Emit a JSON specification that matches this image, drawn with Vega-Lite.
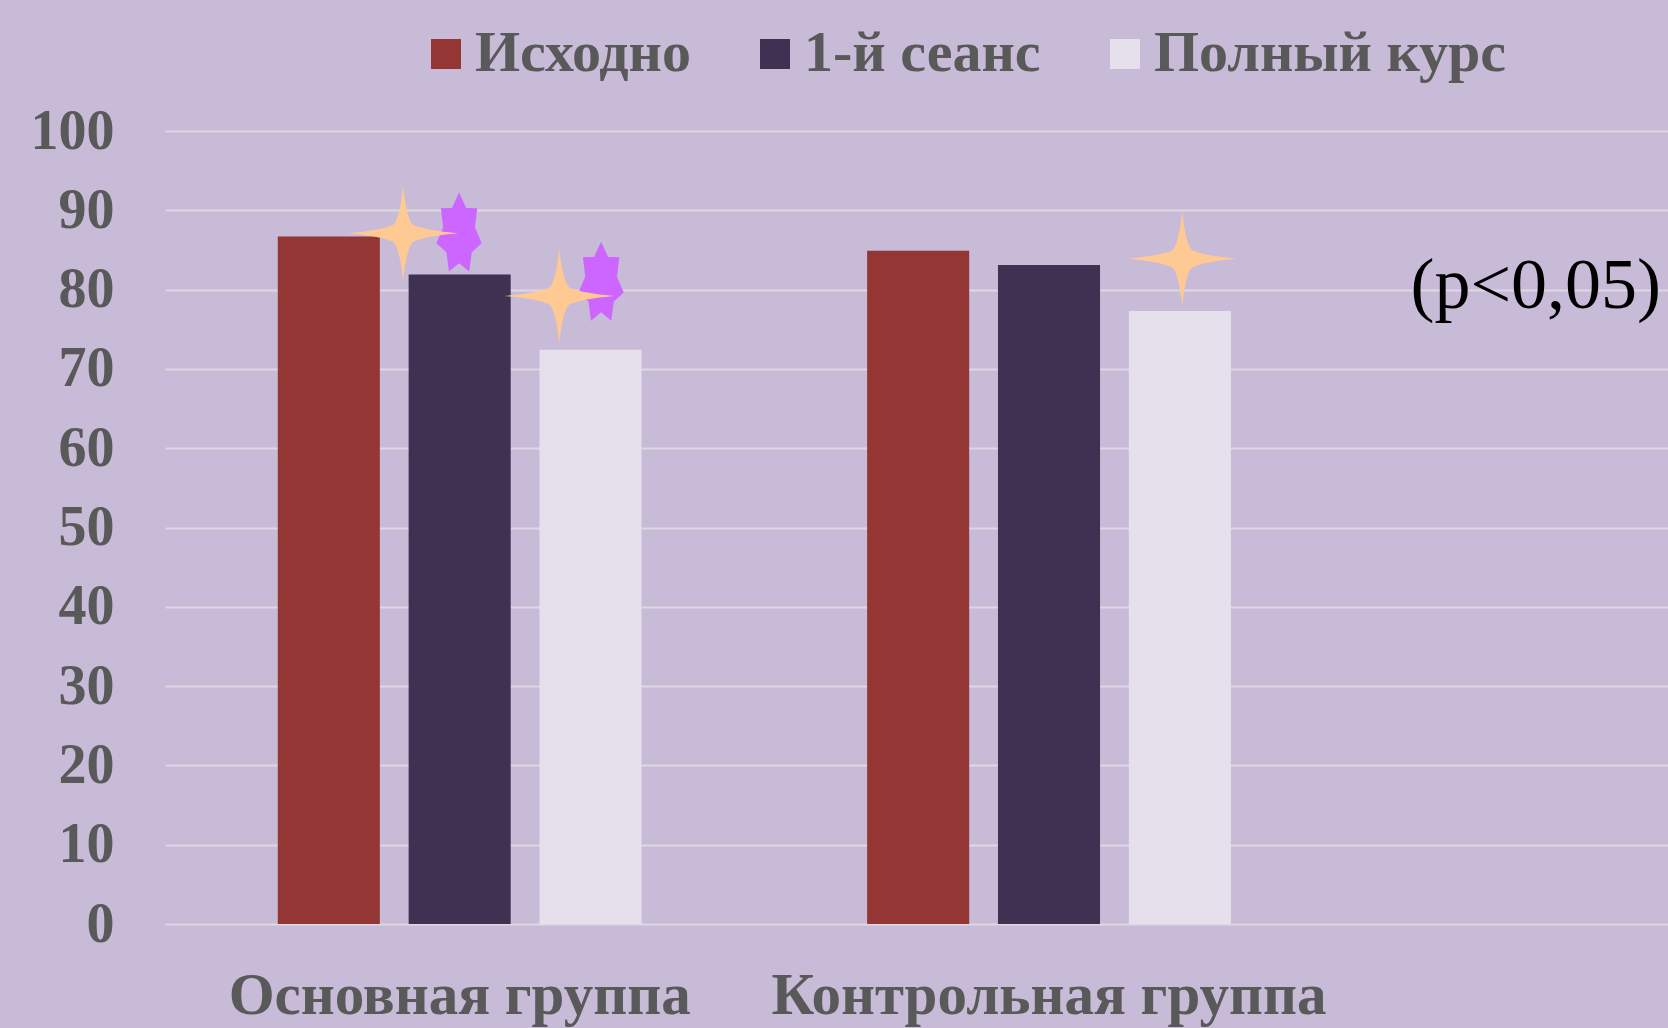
{
  "$schema": "https://vega.github.io/schema/vega-lite/v6.json",
  "width": 1503,
  "height": 793,
  "autosize": "none",
  "padding": {"left": 165, "top": 131, "right": 0, "bottom": 104},
  "background": "#C7BBD7",
  "config": {"view": {"stroke": null}, "font": "Liberation Serif"},
  "datasets": {
    "bars": [
      {"group": "Основная группа", "series": "Исходно", "value": 86.7},
      {"group": "Основная группа", "series": "1-й сеанс", "value": 81.9},
      {"group": "Основная группа", "series": "Полный курс", "value": 72.4},
      {"group": "Контрольная группа", "series": "Исходно", "value": 84.9},
      {"group": "Контрольная группа", "series": "1-й сеанс", "value": 83.1},
      {"group": "Контрольная группа", "series": "Полный курс", "value": 77.3}
    ],
    "stars": [
      {"kind": "orange", "pos": 0.404, "value": 87.1},
      {"kind": "purple", "pos": 0.499, "value": 87.0},
      {"kind": "orange", "pos": 0.669, "value": 79.2},
      {"kind": "purple", "pos": 0.740, "value": 80.8},
      {"kind": "orange", "pos": 1.726, "value": 83.9}
    ],
    "note": [
      {"label": "(p<0,05)", "pos": 2.326, "value": 80.5}
    ]
  },
  "layer": [
    {
      "data": {"name": "bars"},
      "mark": {"type": "bar"},
      "encoding": {
        "x": {
          "field": "group", "type": "nominal",
          "scale": {"domain": ["Основная группа", "Контрольная группа", ""], "range": [0, 1768], "paddingInner": 0, "paddingOuter": 0},
          "axis": {
            "title": null, "domain": false, "ticks": false, "labelAngle": 0, "labelLimit": 0,
            "labelFont": "Liberation Serif", "labelFontWeight": "bold", "labelFontSize": 59,
            "labelColor": "#595959", "labelPadding": 42
          }
        },
        "xOffset": {
          "field": "series", "type": "nominal",
          "sort": ["Исходно", "1-й сеанс", "Полный курс"],
          "scale": {"paddingInner": 0.22, "paddingOuter": 0.862}
        },
        "y": {
          "field": "value", "type": "quantitative",
          "scale": {"domain": [0, 100]},
          "axis": {
            "title": null, "domain": false, "ticks": false,
            "values": [0, 10, 20, 30, 40, 50, 60, 70, 80, 90, 100],
            "grid": true, "gridColor": "#DDD8E4", "gridWidth": 2,
            "labelFont": "Liberation Serif", "labelFontWeight": "bold", "labelFontSize": 56,
            "labelColor": "#595959", "labelPadding": 51
          }
        },
        "color": {
          "field": "series", "type": "nominal",
          "sort": ["Исходно", "1-й сеанс", "Полный курс"],
          "scale": {"domain": ["Исходно", "1-й сеанс", "Полный курс"], "range": ["#943634", "#3F3151", "#E5E0EC"]},
          "legend": {
            "title": null, "orient": "none", "legendX": 252, "legendY": -106,
            "direction": "horizontal", "symbolType": "square", "symbolSize": 900,
            "symbolStrokeWidth": 0, "symbolOpacity": 1,
            "labelFont": "Liberation Serif", "labelFontWeight": "bold", "labelFontSize": 58,
            "labelColor": "#595959", "labelOffset": 0, "columnPadding": 55, "labelLimit": 0
          }
        }
      }
    },
    {
      "encoding": {
        "x": {"field": "pos", "type": "quantitative", "scale": {"domain": [0, 3], "range": [0, 1768]}, "axis": null},
        "y": {"field": "value", "type": "quantitative"}
      },
      "layer": [
        {
          "data": {"name": "stars"},
          "transform": [{"filter": "datum.kind == 'purple'"}],
          "mark": {
            "type": "point", "filled": true, "opacity": 1, "fill": "#CC66FF", "strokeWidth": 0, "size": 6900,
            "shape": "M0,-1 L0.17,-0.631 L0.438,-0.624 L0.382,-0.156 L0.546,0.223 L0.306,0.437 L0.243,0.901 L0,0.7 L-0.243,0.901 L-0.306,0.437 L-0.546,0.223 L-0.382,-0.156 L-0.438,-0.624 L-0.17,-0.631 Z"
          }
        },
        {
          "data": {"name": "stars"},
          "transform": [{"filter": "datum.kind == 'orange'"}],
          "mark": {
            "type": "point", "filled": true, "opacity": 1, "fill": "#FFC993", "strokeWidth": 0, "size": 12100,
            "shape": "M0,-0.86 Q0.07,-0.22 0.19,-0.15 Q0.42,-0.05 1,0 Q0.42,0.05 0.19,0.15 Q0.07,0.22 0,0.86 Q-0.07,0.22 -0.19,0.15 Q-0.42,0.05 -1,0 Q-0.42,-0.05 -0.19,-0.15 Q-0.07,-0.22 0,-0.86 Z"
          }
        },
        {
          "data": {"name": "note"},
          "mark": {"type": "text", "font": "Liberation Serif", "fontSize": 72, "color": "#000000", "align": "center", "baseline": "middle"},
          "encoding": {"text": {"field": "label"}}
        }
      ]
    }
  ],
  "resolve": {"scale": {"x": "independent"}}
}
